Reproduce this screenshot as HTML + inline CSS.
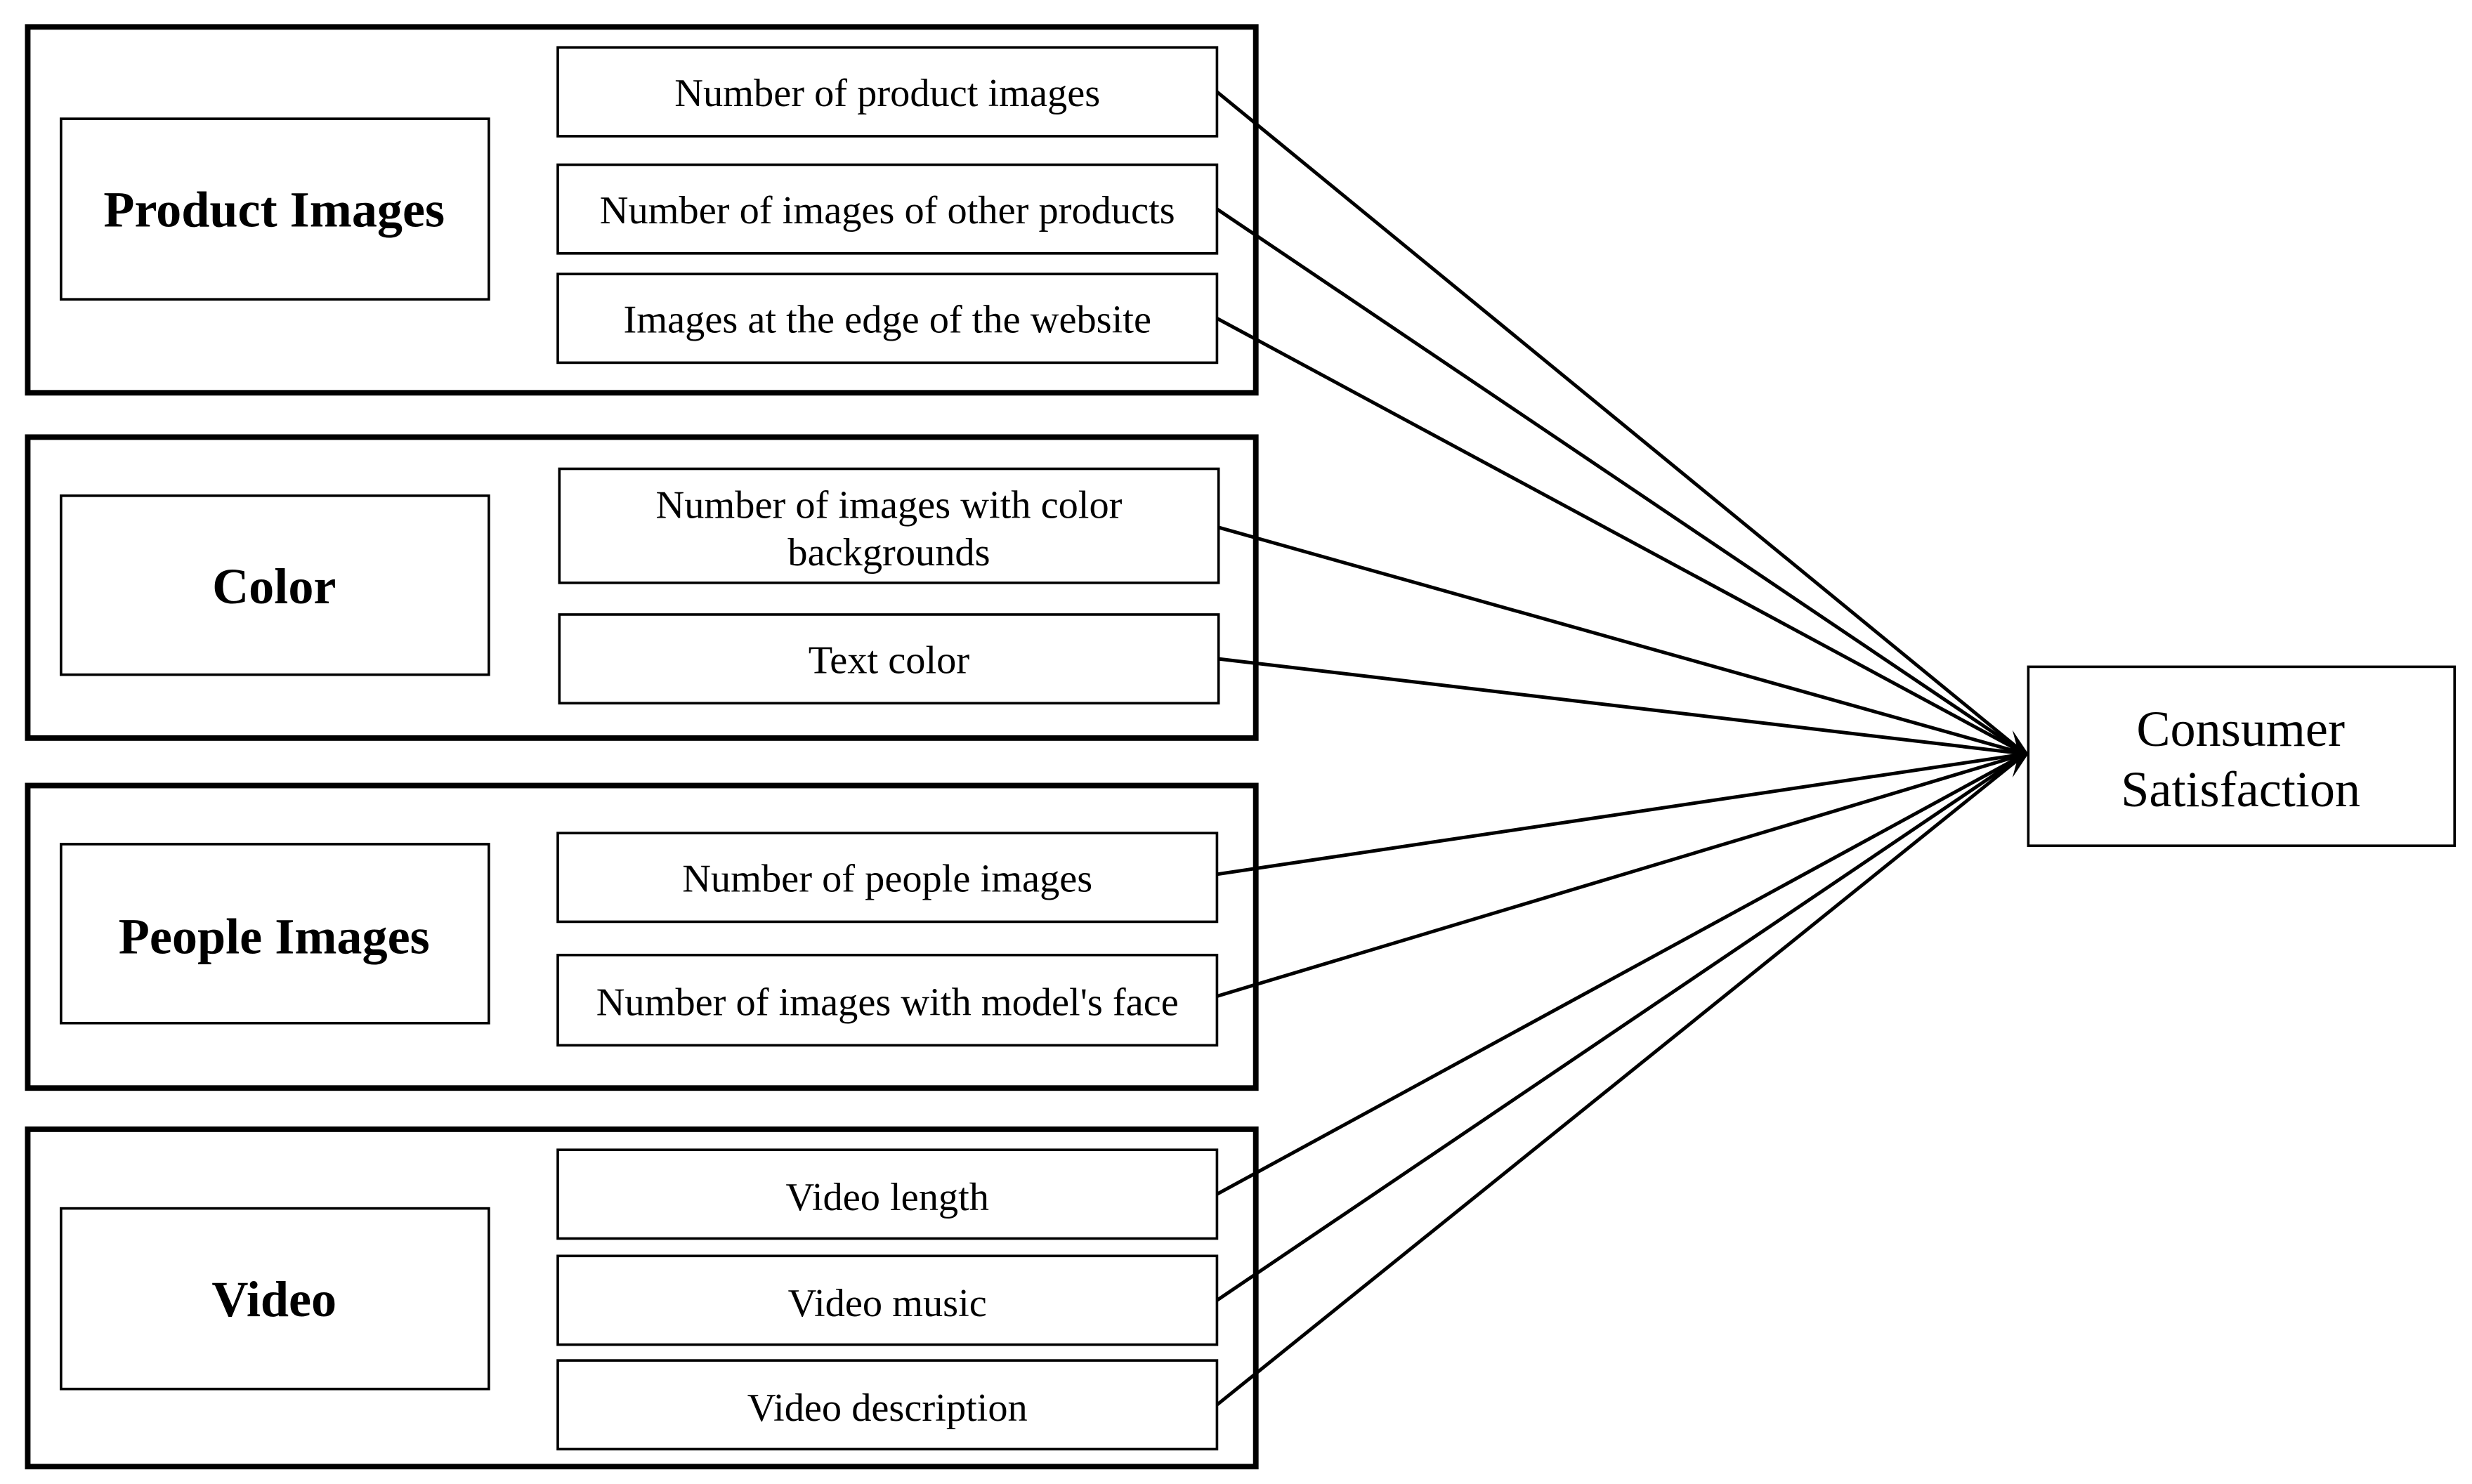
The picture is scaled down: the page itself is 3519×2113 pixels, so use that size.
<!DOCTYPE html>
<html><head><meta charset="utf-8"><style>
html,body{margin:0;padding:0;background:#fff;}
svg{display:block;}
text{font-family:"Liberation Serif",serif;fill:#000;}
</style></head><body>
<svg width="3519" height="2113" viewBox="0 0 1560 937" preserveAspectRatio="none">
<g fill="none" stroke="#000">
<rect x="17.5" y="17" width="775" height="231" stroke-width="3.5"/>
<rect x="17.5" y="276" width="775" height="190" stroke-width="3.5"/>
<rect x="17.5" y="496" width="775" height="191" stroke-width="3.5"/>
<rect x="17.5" y="713" width="775" height="213" stroke-width="3.5"/>
<g stroke-width="1.6">
<rect x="38.5" y="75" width="270" height="114"/>
<rect x="38.5" y="313" width="270" height="113"/>
<rect x="38.5" y="533" width="270" height="113"/>
<rect x="38.5" y="763" width="270" height="114"/>
<rect x="352" y="30" width="416" height="56"/>
<rect x="352" y="104" width="416" height="56"/>
<rect x="352" y="173" width="416" height="56"/>
<rect x="353" y="296" width="416" height="72"/>
<rect x="353" y="388" width="416" height="56"/>
<rect x="352" y="526" width="416" height="56"/>
<rect x="352" y="603" width="416" height="57"/>
<rect x="352" y="726" width="416" height="56"/>
<rect x="352" y="793" width="416" height="56"/>
<rect x="352" y="859" width="416" height="56"/>
<rect x="1280" y="421" width="269" height="113"/>
</g>
<g stroke-width="2.2">
<line x1="768" y1="58" x2="1278" y2="476"/>
<line x1="768" y1="132" x2="1278" y2="476"/>
<line x1="768" y1="201" x2="1278" y2="476"/>
<line x1="769" y1="333" x2="1278" y2="476"/>
<line x1="769" y1="416" x2="1278" y2="476"/>
<line x1="768" y1="552" x2="1278" y2="476"/>
<line x1="768" y1="629" x2="1278" y2="476"/>
<line x1="768" y1="754" x2="1278" y2="476"/>
<line x1="768" y1="821" x2="1278" y2="476"/>
<line x1="768" y1="887" x2="1278" y2="476"/>
</g>
</g>
<path d="M1280,476 L1270,461 L1274,476 L1270,491 Z" fill="#000"/>
<g font-size="32" font-weight="bold" text-anchor="middle">
<text x="173" y="143">Product Images</text>
<text x="173" y="381">Color</text>
<text x="173" y="602">People Images</text>
<text x="173" y="831">Video</text>
</g>
<g font-size="25" text-anchor="middle">
<text x="560" y="67">Number of product images</text>
<text x="560" y="141">Number of images of other products</text>
<text x="560" y="210">Images at the edge of the website</text>
<text x="561" y="327">Number of images with color</text>
<text x="561" y="357">backgrounds</text>
<text x="561" y="425">Text color</text>
<text x="560" y="563">Number of people images</text>
<text x="560" y="641">Number of images with model's face</text>
<text x="560" y="764">Video length</text>
<text x="560" y="831">Video music</text>
<text x="560" y="897">Video description</text>
</g>
<g font-size="32" text-anchor="middle">
<text x="1414" y="471">Consumer</text>
<text x="1414" y="509">Satisfaction</text>
</g>
</svg>
</body></html>
